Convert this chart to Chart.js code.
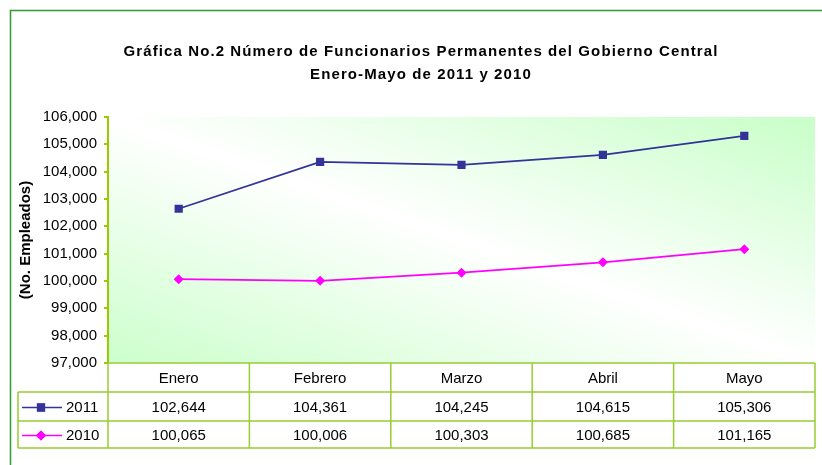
<!DOCTYPE html>
<html>
<head>
<meta charset="utf-8">
<script src="https://cdn.jsdelivr.net/npm/chart.js@4/dist/chart.umd.min.js"></script>
<style>
  html, body { margin: 0; padding: 0; background: #ffffff; }
  #wrap { width: 822px; height: 465px; position: relative; }
</style>
</head>
<body>
<div id="wrap"><canvas id="c" width="822" height="465"></canvas></div>
<script>
const titleLines = ['Gráfica No.2 Número de Funcionarios Permanentes del Gobierno Central', 'Enero-Mayo de 2011 y 2010'];
const yAxisTitle = '(No. Empleados)';
const months = ['Enero', 'Febrero', 'Marzo', 'Abril', 'Mayo'];
const seriesNames = ['2011', '2010'];
const values2011 = [102644, 104361, 104245, 104615, 105306];
const values2010 = [100065, 100006, 100303, 100685, 101165];
const yMin = 97000;
const yMax = 106000;
const yStep = 1000;

const FONT = '"Liberation Sans", Arial, sans-serif';
const fmt = v => Number(v).toLocaleString('en-US');

const plotBg = {
  id: 'plotBg',
  beforeDraw(chart) {
    const {ctx, chartArea: a} = chart;
    const W = a.right - a.left, H = a.bottom - a.top;
    const cx = (a.left + a.right) / 2, cy = (a.top + a.bottom) / 2;
    const n = Math.hypot(W, H);
    const dx = H / n, dy = -W / n;
    const k = Math.abs((-W / 2) * dx + (H / 2) * dy);
    const g = ctx.createLinearGradient(cx - k * dx, cy - k * dy, cx + k * dx, cy + k * dy);
    g.addColorStop(0, '#ccffcc');
    g.addColorStop(0.5, '#ffffff');
    g.addColorStop(1, '#c8ffc8');
    ctx.save();
    ctx.fillStyle = g;
    ctx.fillRect(a.left, a.top, W, H);
    ctx.restore();
    // wider glyph spacing for the title only (title is the only layer drawn before datasets)
    ctx.letterSpacing = '1.1px';
  },
  beforeDatasetsDraw(chart) {
    chart.ctx.letterSpacing = '0px';
  }
};

const frameAndTable = {
  id: 'frameAndTable',
  afterDraw(chart) {
    const {ctx, chartArea: a, scales: {x}} = chart;
    ctx.save();
    ctx.letterSpacing = '0px';
    ctx.strokeStyle = '#339933';
    ctx.lineWidth = 1.5;
    ctx.beginPath();
    ctx.moveTo(10.5, 465); ctx.lineTo(10.5, 10.5); ctx.lineTo(822, 10.5);
    ctx.stroke();

    const rows = [a.bottom, a.bottom + 29, a.bottom + 58, a.bottom + 85];
    const legendLeft = 18;
    const n = months.length;
    const bounds = [a.left];
    for (let i = 1; i < n; i++) bounds.push((x.getPixelForValue(i - 1) + x.getPixelForValue(i)) / 2);
    bounds.push(a.right);

    ctx.strokeStyle = '#99cc33';
    ctx.lineWidth = 1.5;
    ctx.beginPath();
    ctx.moveTo(a.left, rows[0]); ctx.lineTo(a.right, rows[0]);
    for (let r = 1; r < rows.length; r++) { ctx.moveTo(legendLeft, rows[r]); ctx.lineTo(a.right, rows[r]); }
    bounds.forEach(b => { ctx.moveTo(b, rows[0]); ctx.lineTo(b, rows[3]); });
    ctx.moveTo(legendLeft, rows[1]); ctx.lineTo(legendLeft, rows[3]);
    ctx.stroke();

    ctx.fillStyle = '#000000';
    ctx.font = '15px ' + FONT;
    ctx.textAlign = 'center';
    ctx.textBaseline = 'middle';
    months.forEach((m, i) => {
      const cx = x.getPixelForValue(i);
      ctx.fillText(m, cx, (rows[0] + rows[1]) / 2 + 1);
      ctx.fillText(fmt(values2011[i]), cx, (rows[1] + rows[2]) / 2 + 1);
      ctx.fillText(fmt(values2010[i]), cx, (rows[2] + rows[3]) / 2 + 1);
    });

    chart.data.datasets.forEach((ds, d) => {
      const yy = (rows[1 + d] + rows[2 + d]) / 2 + 1;
      ctx.strokeStyle = ds.borderColor;
      ctx.lineWidth = 1.5;
      ctx.beginPath(); ctx.moveTo(22, yy); ctx.lineTo(62, yy); ctx.stroke();
      ctx.fillStyle = ds.pointBackgroundColor;
      Chart.helpers.drawPoint(ctx, {pointStyle: ds.pointStyle, radius: ds.pointRadius, rotation: 0, borderWidth: 0}, 41, yy);
      ctx.fill();
      ctx.fillStyle = '#000000';
      ctx.textAlign = 'left';
      ctx.fillText(ds.label, 66, yy);
    });
    ctx.restore();
  }
};

new Chart(document.getElementById('c'), {
  type: 'line',
  data: {
    labels: months,
    datasets: [
      {
        label: seriesNames[0], data: values2011,
        borderColor: '#333399', backgroundColor: '#333399',
        pointBackgroundColor: '#333399', pointBorderColor: '#333399',
        pointStyle: 'rect', pointRadius: 5.8, pointBorderWidth: 0,
        borderWidth: 1.8, tension: 0
      },
      {
        label: seriesNames[1], data: values2010,
        borderColor: '#ff00ff', backgroundColor: '#ff00ff',
        pointBackgroundColor: '#ff00ff', pointBorderColor: '#ff00ff',
        pointStyle: 'rectRot', pointRadius: 5, pointBorderWidth: 0,
        borderWidth: 1.8, tension: 0
      }
    ]
  },
  options: {
    responsive: false,
    animation: false,
    events: [],
    layout: { padding: { left: 27, right: 7, top: 0, bottom: 102 } },
    plugins: {
      legend: { display: false },
      tooltip: { enabled: false },
      title: {
        display: true,
        text: titleLines,
        color: '#000000',
        font: { family: FONT, size: 15, weight: 'bold', lineHeight: '23px' },
        padding: { top: 40.5, bottom: 30.5 }
      }
    },
    scales: {
      x: {
        display: false,
        offset: true
      },
      y: {
        min: yMin, max: yMax,
        afterFit(scale) { scale.width = 81; },
        border: { display: true, color: '#99cc00', width: 2, z: 1 },
        grid: { drawOnChartArea: false, drawTicks: true, tickLength: 4, color: '#99cc00', lineWidth: 2, z: 1 },
        ticks: {
          z: 1,
          stepSize: yStep, color: '#000000', padding: 7,
          font: { family: FONT, size: 15 },
          callback: v => fmt(v)
        },
        title: {
          display: true, text: yAxisTitle, color: '#000000',
          font: { family: FONT, size: 15, weight: 'bold' },
          padding: { top: -10.5, bottom: 0 }
        }
      }
    }
  },
  plugins: [plotBg, frameAndTable]
});
</script>
</body>
</html>
